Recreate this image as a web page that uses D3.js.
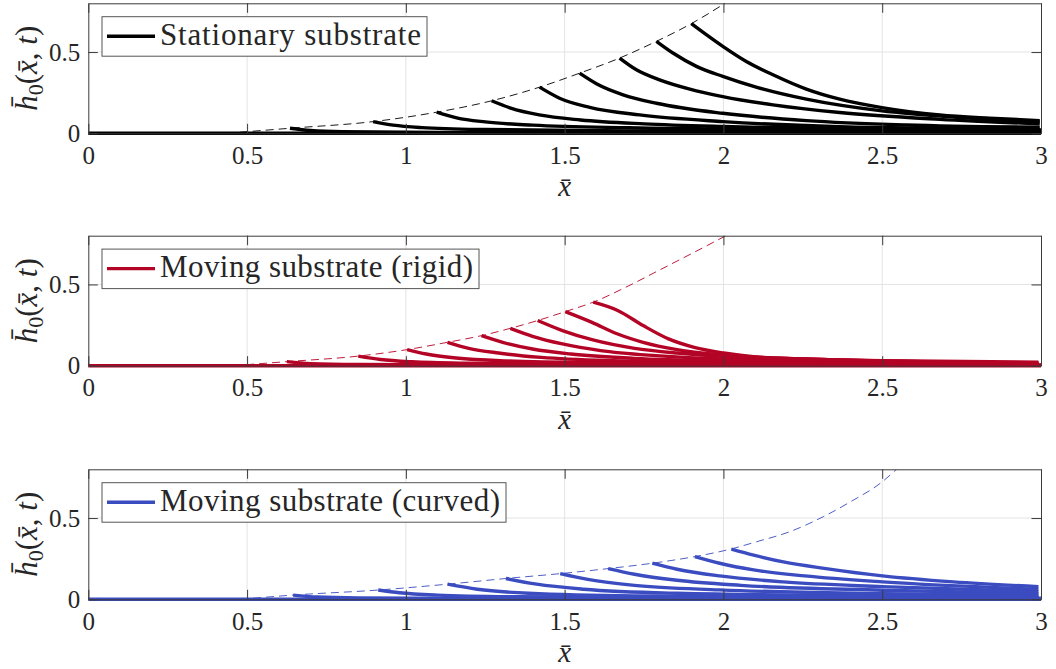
<!DOCTYPE html>
<html>
<head>
<meta charset="utf-8">
<script src="https://cdn.jsdelivr.net/npm/d3@7"></script>
<style>
  html, body { margin: 0; padding: 0; background: #fff; }
  svg { display: block; }
  text { font-family: "Liberation Serif", "Times New Roman", serif; fill: #262626; }
</style>
</head>
<body>
<div id="chart"></div>
<script>
// Film-thickness profiles h0(x, t) at successive times, three substrate cases.
const xTicks = [0, 0.5, 1, 1.5, 2, 2.5, 3];
const yTicks = [0, 0.5];
const xDomain = [0, 3];
const yDomain = [0, 0.8];

const legendLabels = [
  "Stationary substrate",
  "Moving substrate (rigid)",
  "Moving substrate (curved)"
];
const seriesColors = ["#000000", "#b40426", "#3b4cc0"];

// Flat initial film (h ~ 0 over the whole domain)
const baseProfile = [[0, 0], [3, 0]];

// Stationary substrate: profiles, each starting at its front
const stationaryProfiles = [
  [[0.635, 0.031], [0.70, 0.017], [0.80, 0.010], [1.10, 0.006], [3.00, 0.004]],
  [[0.897, 0.072], [0.96, 0.050], [1.05, 0.035], [1.25, 0.023], [1.70, 0.015], [3.00, 0.010]],
  [[1.097, 0.130], [1.16, 0.095], [1.25, 0.070], [1.40, 0.050], [1.70, 0.034], [2.20, 0.024], [3.00, 0.016]],
  [[1.270, 0.200], [1.33, 0.155], [1.42, 0.113], [1.55, 0.082], [1.75, 0.058], [2.00, 0.042], [2.50, 0.028], [3.00, 0.020]],
  [[1.421, 0.284], [1.484, 0.216], [1.579, 0.160], [1.736, 0.113], [1.998, 0.072], [2.366, 0.041], [2.996, 0.025]],
  [[1.547, 0.370], [1.600, 0.305], [1.684, 0.237], [1.789, 0.185], [1.998, 0.123], [2.261, 0.078], [2.576, 0.051], [2.996, 0.037]],
  [[1.673, 0.463], [1.726, 0.391], [1.799, 0.329], [1.894, 0.272], [1.998, 0.226], [2.156, 0.175], [2.366, 0.128], [2.681, 0.086], [2.996, 0.058]],
  [[1.789, 0.566], [1.841, 0.494], [1.915, 0.412], [1.998, 0.350], [2.103, 0.284], [2.261, 0.210], [2.499, 0.138], [2.733, 0.099], [2.996, 0.070]],
  [[1.899, 0.675], [1.946, 0.607], [1.998, 0.535], [2.072, 0.442], [2.156, 0.360], [2.261, 0.272], [2.366, 0.210], [2.499, 0.158], [2.681, 0.113], [2.838, 0.093], [2.996, 0.078]]
];
const stationaryFront = [
  [0.436, 0], [0.635, 0.031], [0.897, 0.072], [1.097, 0.130], [1.270, 0.200],
  [1.421, 0.284], [1.547, 0.370], [1.673, 0.463], [1.789, 0.566], [1.899, 0.675], [2.005, 0.800]
];

// Moving rigid substrate
const rigidProfiles = [
  [[0.625, 0.025], [0.70, 0.013], [0.85, 0.007], [1.20, 0.004], [3.00, 0.003]],
  [[0.850, 0.059], [0.92, 0.038], [1.02, 0.024], [1.20, 0.015], [1.50, 0.010], [3.00, 0.005]],
  [[1.004, 0.099], [1.064, 0.072], [1.158, 0.047], [1.319, 0.029], [1.586, 0.019], [2.992, 0.006]],
  [[1.131, 0.144], [1.198, 0.107], [1.292, 0.078], [1.426, 0.051], [1.653, 0.031], [2.001, 0.021], [2.992, 0.008]],
  [[1.238, 0.185], [1.305, 0.144], [1.399, 0.103], [1.519, 0.072], [1.720, 0.045], [2.001, 0.029], [2.992, 0.010]],
  [[1.329, 0.230], [1.399, 0.181], [1.493, 0.134], [1.613, 0.093], [1.787, 0.062], [2.001, 0.041], [2.992, 0.012]],
  [[1.415, 0.278], [1.493, 0.216], [1.586, 0.160], [1.720, 0.107], [1.854, 0.078], [2.001, 0.058], [2.992, 0.014]],
  [[1.502, 0.333], [1.586, 0.267], [1.667, 0.195], [1.747, 0.144], [1.854, 0.099], [2.001, 0.066], [2.256, 0.041], [2.992, 0.016]],
  [[1.590, 0.391], [1.667, 0.340], [1.747, 0.247], [1.827, 0.165], [1.908, 0.113], [2.001, 0.078], [2.122, 0.051], [2.501, 0.031], [2.992, 0.021]]
];
const rigidFront = [
  [0.456, 0], [0.625, 0.025], [0.850, 0.059], [1.004, 0.099], [1.131, 0.144], [1.238, 0.185],
  [1.329, 0.230], [1.415, 0.278], [1.502, 0.333], [1.590, 0.391], [1.700, 0.490],
  [1.800, 0.590], [1.900, 0.690], [2.008, 0.800]
];

// Moving curved substrate
const curvedProfiles = [
  [[0.645, 0.026], [0.72, 0.014], [0.85, 0.008], [1.20, 0.005], [3.00, 0.003]],
  [[0.913, 0.057], [0.98, 0.040], [1.10, 0.026], [1.35, 0.016], [2.00, 0.010], [3.00, 0.007]],
  [[1.131, 0.093], [1.225, 0.062], [1.386, 0.037], [1.720, 0.021], [2.992, 0.010]],
  [[1.315, 0.128], [1.412, 0.093], [1.560, 0.062], [1.854, 0.037], [2.501, 0.021], [2.992, 0.016]],
  [[1.486, 0.158], [1.573, 0.123], [1.720, 0.086], [1.988, 0.058], [2.501, 0.035], [2.992, 0.025]],
  [[1.637, 0.189], [1.720, 0.154], [1.854, 0.117], [2.055, 0.086], [2.501, 0.056], [2.992, 0.035]],
  [[1.776, 0.222], [1.854, 0.185], [1.988, 0.144], [2.189, 0.107], [2.501, 0.078], [2.992, 0.047]],
  [[1.910, 0.263], [1.988, 0.222], [2.095, 0.181], [2.256, 0.144], [2.501, 0.107], [2.992, 0.062]],
  [[2.025, 0.309], [2.095, 0.272], [2.189, 0.230], [2.323, 0.189], [2.501, 0.144], [2.724, 0.107], [2.992, 0.078]]
];
const curvedFront = [
  [0.478, 0], [0.645, 0.026], [0.913, 0.057], [1.131, 0.093], [1.315, 0.128], [1.486, 0.158],
  [1.637, 0.189], [1.776, 0.222], [1.910, 0.263], [2.023, 0.309], [2.104, 0.354],
  [2.209, 0.416], [2.314, 0.508], [2.400, 0.600], [2.500, 0.723], [2.545, 0.800]
];

const panelData = [
  { profiles: stationaryProfiles, front: stationaryFront },
  { profiles: rigidProfiles, front: rigidFront },
  { profiles: curvedProfiles, front: curvedFront }
];

// ---- layout ----
const W = 1056, H = 669;
const plotLeft = 88.3, plotWidth = 952.7, plotHeight = 130;
const panelTops = [3.3, 235.7, 469.3];
const tickLen = 9.5;
const serif = "'Liberation Serif', 'Times New Roman', serif";

const svg = d3.select("#chart").append("svg")
  .attr("width", W).attr("height", H)
  .attr("viewBox", `0 0 ${W} ${H}`);

const x = d3.scaleLinear().domain(xDomain).range([0, plotWidth]);
const y = d3.scaleLinear().domain(yDomain).range([plotHeight, 0]);

const line = d3.line()
  .x(d => x(d[0]))
  .y(d => y(d[1]))
  .curve(d3.curveMonotoneX);

panelData.forEach((p, i) => {
  const color = seriesColors[i];
  const g = svg.append("g").attr("transform", `translate(${plotLeft},${panelTops[i]})`);

  // background + clip
  g.append("rect").attr("width", plotWidth).attr("height", plotHeight).attr("fill", "#fff");
  const clipId = `clip-${i}`;
  g.append("clipPath").attr("id", clipId)
    .append("rect").attr("x", -3).attr("y", 0).attr("width", plotWidth + 6).attr("height", plotHeight + 3);

  // grid
  const grid = g.append("g").attr("stroke", "#e3e3e3").attr("stroke-width", 1);
  grid.selectAll("line.gx").data(xTicks.slice(1, -1)).join("line")
    .attr("x1", d => x(d)).attr("x2", d => x(d))
    .attr("y1", 0).attr("y2", plotHeight);
  grid.selectAll("line.gy").data(yTicks.slice(1)).join("line")
    .attr("x1", 0).attr("x2", plotWidth)
    .attr("y1", d => y(d)).attr("y2", d => y(d));

  // curves
  const plot = g.append("g").attr("clip-path", `url(#${clipId})`);
  plot.append("path").datum(p.front)
    .attr("d", line).attr("fill", "none")
    .attr("stroke", color).attr("stroke-width", 0.9)
    .attr("stroke-dasharray", "8,5");
  plot.append("path").datum(baseProfile)
    .attr("d", line).attr("fill", "none")
    .attr("stroke", color).attr("stroke-width", 3.4);
  plot.selectAll("path.profile").data(p.profiles).join("path")
    .attr("class", "profile")
    .attr("d", line).attr("fill", "none")
    .attr("stroke", color).attr("stroke-width", 3.4)
    .attr("stroke-linejoin", "round");

  // axes: box with inward ticks on all sides
  const axisColor = "#3a3a3a";
  const xb = g.append("g").attr("transform", `translate(0,${plotHeight})`)
    .call(d3.axisBottom(x).tickValues(xTicks).tickSizeInner(-tickLen).tickSizeOuter(0)
      .tickPadding(13).tickFormat(d3.format("")));
  const xt = g.append("g")
    .call(d3.axisTop(x).tickValues(xTicks).tickSizeInner(-tickLen).tickSizeOuter(0).tickFormat(""));
  const yl = g.append("g")
    .call(d3.axisLeft(y).tickValues(yTicks).tickSizeInner(-tickLen).tickSizeOuter(0)
      .tickPadding(8).tickFormat(d3.format("")));
  const yr = g.append("g").attr("transform", `translate(${plotWidth},0)`)
    .call(d3.axisRight(y).tickValues(yTicks).tickSizeInner(-tickLen).tickSizeOuter(0).tickFormat(""));
  [xb, xt, yl, yr].forEach(a => {
    a.attr("font-family", serif).attr("font-size", 25);
    a.select(".domain").attr("stroke", axisColor).attr("stroke-width", 1);
    a.selectAll(".tick line").attr("stroke", axisColor).attr("stroke-width", 1);
    a.selectAll(".tick text").attr("fill", "#262626")
      .style("font-family", serif).style("font-size", "25px");
  });
  xb.selectAll(".tick text").attr("dy", "0.71em");
  yl.selectAll(".tick text").attr("dy", "0.33em");

  // x-axis label
  g.append("text")
    .attr("x", plotWidth / 2).attr("y", plotHeight + 63)
    .attr("text-anchor", "middle")
    .style("font-size", "29px").style("font-style", "italic")
    .text("x\u0304");

  // y-axis label
  const yLab = g.append("text")
    .attr("transform", `translate(${37 - plotLeft},${plotHeight / 2}) rotate(-90)`)
    .attr("text-anchor", "middle")
    .style("font-size", "31px");
  yLab.append("tspan").style("font-style", "italic").text("h\u0304");
  yLab.append("tspan").attr("dy", 6).style("font-size", "22px").text("0");
  yLab.append("tspan").attr("dy", -6).text("(");
  yLab.append("tspan").style("font-style", "italic").text("x\u0304");
  yLab.append("tspan").text(", ");
  yLab.append("tspan").style("font-style", "italic").text("t");
  yLab.append("tspan").text(")");

  // legend
  const textWidths = [261, 313, 340];
  const lg = g.append("g").attr("transform", `translate(${102 - plotLeft},13.4)`);
  const boxW = 58 + textWidths[i] + 6;
  lg.append("rect").attr("width", boxW).attr("height", 39.5)
    .attr("fill", "#fff").attr("stroke", "#555").attr("stroke-width", 1);
  lg.append("line").attr("x1", 5).attr("x2", 53).attr("y1", 19.5).attr("y2", 19.5)
    .attr("stroke", color).attr("stroke-width", 3.4);
  lg.append("text").attr("x", 58).attr("y", 28)
    .style("font-size", "31px")
    .attr("textLength", textWidths[i]).attr("lengthAdjust", "spacing")
    .text(legendLabels[i]);
});
</script>
</body>
</html>
